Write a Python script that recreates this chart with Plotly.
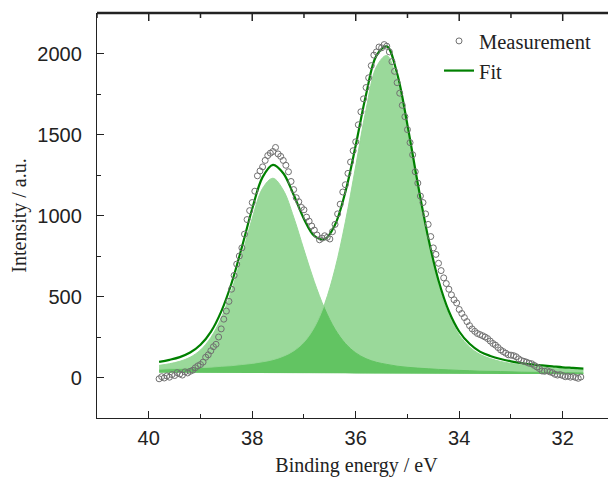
import numpy as np
import plotly.graph_objects as go

# measured spectrum, 0.05 eV steps from 39.80 eV down to 31.65 eV
E_START, E_STOP, E_STEP = 39.80, 31.65, -0.05
counts = [
    -8, 5, -3, 10, 2, 18, 12, 30, 22, 15,
    35, 28, 38, 45, 60, 72, 80, 95, 125, 140,
    165, 190, 205, 250, 300, 360, 410, 470, 545, 630,
    700, 750, 800, 885, 975, 1030, 1080, 1150, 1245, 1275,
    1300, 1340, 1370, 1385, 1395, 1420, 1380, 1365, 1340, 1310,
    1270, 1210, 1160, 1110, 1085, 1050, 1035, 990, 965, 935,
    910, 880, 850, 860, 875, 865, 855, 900, 945, 1010,
    1070, 1145, 1190, 1260, 1330, 1400, 1455, 1560, 1640, 1720,
    1790, 1850, 1925, 1990, 2010, 2040, 2035, 2055, 2045, 2010,
    1950, 1890, 1820, 1755, 1680, 1610, 1530, 1450, 1375, 1270,
    1200, 1120, 1080, 1010, 945, 870, 800, 760, 705, 660,
    615, 580, 545, 510, 480, 460, 420, 395, 370, 345,
    320, 300, 285, 272, 265, 258, 250, 240, 225, 210,
    200, 185, 170, 160, 150, 140, 138, 135, 128, 115,
    105, 100, 95, 88, 85, 75, 65, 55, 40, 38,
    42, 35, 30, 20, 15, 18, 12, 5, 8, 2,
    6, 0, -5, 3,
]

# fitted components on a 0.2 eV grid, 39.8 -> 31.6 eV
F_START, F_STOP, F_STEP = 39.8, 31.6, -0.2
baseline = [30, 30, 30, 29, 29, 29, 29, 28, 28, 28, 28, 27, 27, 27, 27,
            26, 26, 26, 26, 25, 25, 25, 25, 24, 24, 24, 24, 23, 23, 23,
            23, 22, 22, 22, 22, 21, 21, 21, 21, 20, 20, 20]
peak_hi = [45, 55, 70, 96, 141, 218, 338, 509, 725, 955, 1140, 1203,
           1130, 964, 761, 565, 399, 272, 184, 127, 91, 69, 56, 46, 39, 34,
           30, 27, 24, 21, 19, 17, 16, 15, 13, 12, 11, 11, 10, 9, 9, 8]
peak_lo = [21, 24, 26, 29, 32, 35, 40, 45, 52, 59, 69, 83, 104, 137, 191,
           283, 429, 645, 935, 1281, 1631, 1893, 1963, 1806, 1495, 1138, 810,
           549, 362, 240, 166, 121, 95, 77, 65, 56, 49, 43, 38, 34, 30, 27]

X_RANGE = [41, 30.97]
Y_RANGE = [-250, 2250]
# tick positions repeated on the top frame edge
TOP_MAJOR = [40, 38, 36, 34, 32]
TOP_MINOR = [41, 39, 37, 35, 33, 31]

energy = np.round(np.arange(E_START, E_STOP - 0.001, E_STEP), 2)
grid = np.round(np.arange(F_START, F_STOP - 0.001, F_STEP), 2)
base = np.array(baseline, dtype=float)
fit = base + np.array(peak_hi) + np.array(peak_lo)

FILL = "rgba(30,170,30,0.45)"
EDGE = "rgba(150,215,150,0.95)"
INK = "#222"
SERIF = "Liberation Serif"
SANS = "Liberation Sans"

fig = go.Figure()
for comp in (peak_hi, peak_lo):
    fig.add_trace(go.Scatter(x=grid, y=base, mode="lines", line=dict(width=0),
                             showlegend=False, hoverinfo="skip"))
    fig.add_trace(go.Scatter(x=grid, y=base + np.array(comp), mode="lines",
                             fill="tonexty", fillcolor=FILL,
                             line=dict(color=EDGE, width=1, shape="spline"),
                             showlegend=False, hoverinfo="skip"))

fig.add_trace(go.Scatter(x=grid, y=fit, mode="lines", name="Fit", legendrank=2,
                         line=dict(color="#008000", width=2.2, shape="spline")))
fig.add_trace(go.Scatter(x=energy, y=counts, mode="markers", name="Measurement",
                         legendrank=1,
                         marker=dict(symbol="circle-open", size=6, color="#707070",
                                     line=dict(width=1))))

axis_common = dict(showline=True, linecolor=INK, linewidth=1.3, ticks="inside",
                   ticklen=7, tickwidth=1.3, tickcolor=INK, showgrid=False,
                   zeroline=False, automargin=False,
                   tickfont=dict(family=SANS, size=20, color=INK))

# the page body adds an 8 px offset, so margins are set 8 px short
fig.update_layout(
    width=616, height=479,
    margin=dict(l=89, r=8, t=5, b=69),
    plot_bgcolor="white", paper_bgcolor="white",
    xaxis=dict(range=X_RANGE, dtick=2, ticklabelstandoff=2,
               minor=dict(dtick=1, ticks="inside", ticklen=4, tickcolor=INK),
               title=dict(text="Binding energy / eV", standoff=9,
                          font=dict(family=SERIF, size=20, color=INK)),
               **axis_common),
    yaxis=dict(range=Y_RANGE, dtick=500, ticklabelstandoff=10,
               minor=dict(dtick=250, ticks="inside", ticklen=4, tickcolor=INK),
               title=dict(text="Intensity / a.u.", standoff=8,
                          font=dict(family=SERIF, size=20, color=INK)),
               **axis_common),
    legend=dict(x=0.659, y=0.98, xanchor="left", yanchor="top",
                traceorder="normal", bgcolor="rgba(0,0,0,0)", tracegroupgap=0,
                font=dict(family=SERIF, size=20.5, color=INK)),
)

# top frame edge with inward ticks (mirror did not render)
fig.add_shape(type="line", xref="paper", yref="paper", x0=0, x1=1, y0=1, y1=1,
              line=dict(color=INK, width=2.4))
plot_h = 479 - 5 - 69
for xs, length in ((TOP_MAJOR, 8), (TOP_MINOR, 5)):
    for xv in xs:
        fig.add_shape(type="line", xref="x", yref="paper", x0=xv, x1=xv,
                      y0=1, y1=1 - length / plot_h, line=dict(color=INK, width=1.5))

fig.write_html("out.html")
